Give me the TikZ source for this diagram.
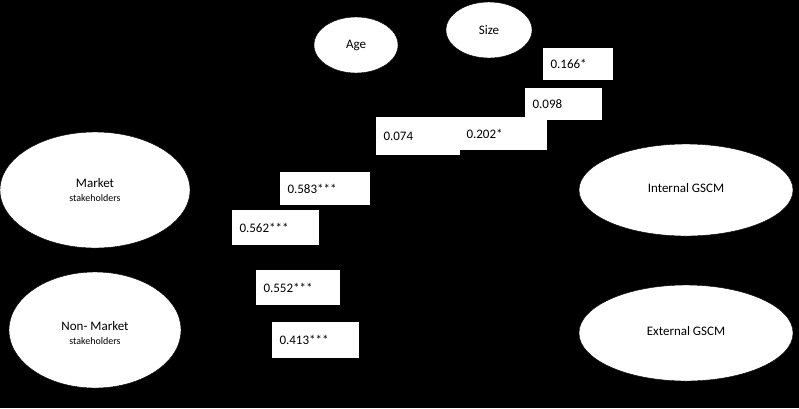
\documentclass[tikz,border=0pt]{standalone}
\usepackage{fontspec}
\setmainfont{Carlito}
\begin{document}
\begin{tikzpicture}[x=1pt,y=-1pt,
  ell/.style={draw=black,fill=white,ellipse,align=center,font=\fontsize{13}{16}\selectfont},
  lbl/.style={draw=black,fill=white,inner sep=0pt,font=\fontsize{13}{16}\selectfont}]
\fill[black] (0,0) rectangle (799,408);
\useasboundingbox (0,0) rectangle (799,408);
\fill[white,draw=black] (356,45) ellipse (42 and 28);
\node (age) at (356,45) {\fontsize{13}{16}\selectfont Age};
\fill[white,draw=black] (489,30) ellipse (43 and 28);
\node (size) at (489,30) {\fontsize{13}{16}\selectfont Size};
\fill[white,draw=black] (95,190) ellipse (95 and 58);
\node[align=center] (ms) at (95,190) {\fontsize{13}{16}\selectfont Market\\[2pt]stakeholders};
\fill[white,draw=black] (95,330) ellipse (86 and 58);
\node[align=center] (nms) at (95,333) {\fontsize{13}{16}\selectfont Non- Market\\[2pt]stakeholders};
\fill[white,draw=black] (686,190) ellipse (107 and 46);
\node (int) at (686,188) {\fontsize{13}{16}\selectfont Internal GSCM};
\fill[white,draw=black] (686,333) ellipse (107 and 48);
\node (ext) at (686,331) {\fontsize{13}{16}\selectfont External GSCM};
\foreach \n/\xa/\ya/\xb/\yb/\t in {
  a/543/48/613/80/0.166*,
  b/525/88/602/120/0.098,
  c/376/117/460/155/0.074,
  d/459/117/547/150/0.202*,
  e/280/172/370/205/0.583***,
  f/232/210/319/245/0.562***,
  g/256/270/340/305/0.552***,
  h/272/322/359/358/0.413***}{
  \fill[white] (\xa,\ya) rectangle (\xb,\yb);
  \node[anchor=west,font=\fontsize{13}{16}\selectfont] (l\n) at (\xa+4,{(\ya+\yb)/2}) {\t};
}
\end{tikzpicture}
\end{document}
